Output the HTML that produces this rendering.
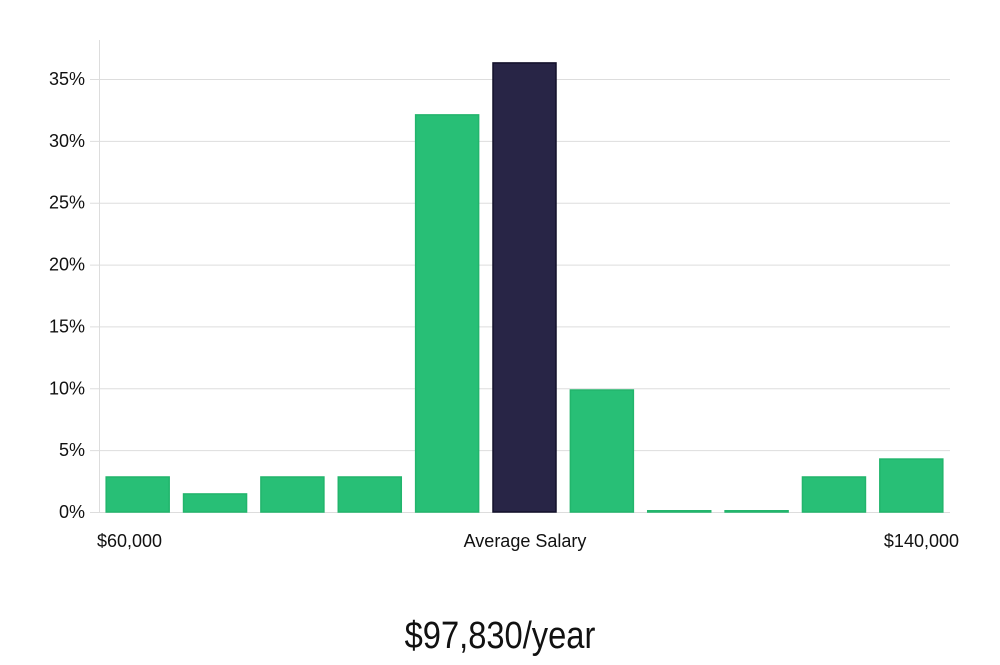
<!DOCTYPE html>
<html><head><meta charset="utf-8"><style>
body{margin:0;background:#fff;width:1000px;height:660px;overflow:hidden;font-family:"Liberation Sans","DejaVu Sans",sans-serif}
</style></head><body>
<svg width="1000" height="660" id="chart">
<g id="grid"></g><g id="bars"></g>
<line x1="99.5" y1="40" x2="99.5" y2="512" stroke="#ddd"/>
<text x="97" y="547" font-size="18" fill="#111">$60,000</text>
<text x="525" y="547" font-size="18" fill="#111" text-anchor="middle">Average Salary</text>
<text x="959" y="547" font-size="18" fill="#111" text-anchor="end">$140,000</text>
<text x="500" y="648" font-size="38" fill="#111" text-anchor="middle" transform="translate(500,0) scale(0.86,1) translate(-500,0)">$97,830/year</text>
</svg>
<script>
const categories=["b1","b2","b3","b4","b5","b6","b7","b8","b9","b10","b11"];
const values=[2.83,1.46,2.83,2.83,32.1,36.3,9.86,0.1,0.1,2.83,4.28];
const highlight=[false,false,false,false,false,true,false,false,false,false,false];
const ticks=[0,5,10,15,20,25,30,35];
const NS="http://www.w3.org/2000/svg";
const y=v=>512-v*(433/35);
const x0=99,x1=950,pitch=(x1-x0)/categories.length,bw=63;
const g=document.getElementById('grid'),b=document.getElementById('bars');
ticks.forEach(t=>{
 const l=document.createElementNS(NS,'line');
 
 
 l.setAttribute('x1',90);l.setAttribute('x2',x1);l.setAttribute('y1',y(t)+0.5);l.setAttribute('y2',y(t)+0.5);
 l.setAttribute('stroke','#ddd');g.appendChild(l);
 const tx=document.createElementNS(NS,'text');
 
 
 tx.setAttribute('x',85);tx.setAttribute('y',y(t)+6);tx.setAttribute('text-anchor','end');
 tx.setAttribute('font-size','18');tx.setAttribute('fill','#111');tx.textContent=t+'%';g.appendChild(tx);
});
values.forEach((v,i)=>{
 const r=document.createElementNS(NS,'rect');
 
 
 const cx=x0+pitch*(i+0.5);
 r.setAttribute('x',cx-bw/2);r.setAttribute('width',bw);
 r.setAttribute('y',y(v));r.setAttribute('height',Math.max(512-y(v),1));
 r.setAttribute('fill',highlight[i]?'#282546':'#28bf76');
 r.setAttribute('stroke',highlight[i]?'#12102a':'#22b56c');r.setAttribute('stroke-width','1.5');
 b.appendChild(r);
});
</script>
</body></html>
